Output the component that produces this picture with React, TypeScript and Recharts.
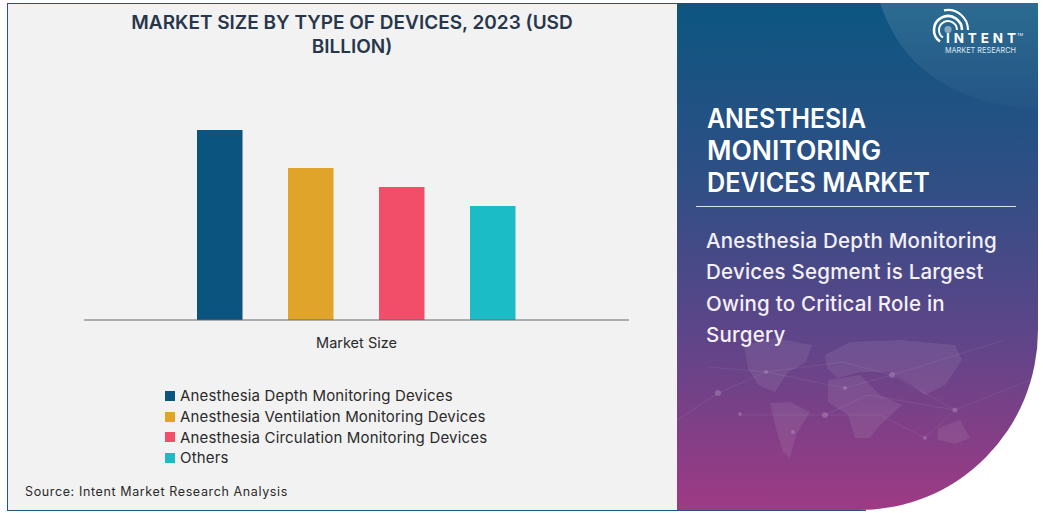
import { Bar, BarChart, Legend, XAxis, YAxis } from "recharts";

const categories = ["Market Size"];
const seriesNames = [
  "Anesthesia Depth Monitoring Devices",
  "Anesthesia Ventilation Monitoring Devices",
  "Anesthesia Circulation Monitoring Devices",
  "Others",
];
const seriesValues = [1.0, 0.8, 0.7, 0.6];
const seriesColors = ["#0b5480", "#e1a42b", "#f24e69", "#1cbcc7"];
const titleLines = ["MARKET SIZE BY TYPE OF DEVICES, 2023 (USD", "BILLION)"];
const headingLines = ["ANESTHESIA", "MONITORING", "DEVICES MARKET"];
const headingWidths = [159, 174, 223];
const bodyLines = [
  "Anesthesia Depth Monitoring",
  "Devices Segment is Largest",
  "Owing to Critical Role in",
  "Surgery",
];
const sourceText = "Source: Intent Market Research Analysis";

const chartData = categories.map((name) => {
  const row: Record<string, string | number> = { name };
  seriesNames.forEach((s, i) => {
    row[s] = seriesValues[i];
  });
  return row;
});

const FONT = "Inter, 'Open Sans', sans-serif";

function LegendList() {
  return (
    <div style={{ fontFamily: FONT }}>
      {seriesNames.map((name, i) => (
        <div key={name} style={{ display: "flex", alignItems: "center", height: 20.7, fontSize: 15, color: "#2a2a2a", letterSpacing: 0.18 }}>
          <span style={{ width: 10, height: 10, background: seriesColors[i], marginRight: 5, flex: "none" }} />
          <span style={{ whiteSpace: "nowrap" }}>{name}</span>
        </div>
      ))}
    </div>
  );
}

function Backdrop() {
  return (
    <svg width={1043} height={513} style={{ position: "absolute", left: 0, top: 0 }}>
      <defs>
        <linearGradient id="panelFill" x1="0" y1="0" x2="0" y2="1">
          <stop offset="0%" stopColor="#0c5681" />
          <stop offset="35%" stopColor="#2f4f85" />
          <stop offset="65%" stopColor="#5d4589" />
          <stop offset="100%" stopColor="#9e3a84" />
        </linearGradient>
        <linearGradient id="cornerFill" x1="0" y1="0" x2="0" y2="1">
          <stop offset="0%" stopColor="#ffffff" stopOpacity={0.13} />
          <stop offset="100%" stopColor="#ffffff" stopOpacity={0.015} />
        </linearGradient>
      </defs>
      <rect x={7.5} y={3.5} width={672} height={507} fill="#f2f2f2" stroke="#1b5a80" />
      <path d="M677 3 H1038 V330 A178 180 0 0 1 860 510 H677 Z" fill="url(#panelFill)" />
      <line x1={677} y1={510.5} x2={866} y2={510.5} stroke="#34507e" />
      <path d="M880 3 C895 45 925 100 1038 110 V3 Z" fill="url(#cornerFill)" />
      <g fill="#ffffff" fillOpacity={0.08}>
        <path d="M744 345 L775 338 L812 345 L806 362 L788 372 L775 392 L758 385 L748 368 Z" />
        <path d="M770 403 L790 402 L810 412 L796 435 L790 458 L783 452 L775 425 Z" />
        <path d="M825 355 L850 342 L900 340 L955 345 L962 360 L945 385 L925 395 L912 385 L890 372 L860 372 L838 378 L827 368 Z" />
        <path d="M828 380 L860 375 L880 395 L902 405 L880 425 L870 438 L855 438 L848 415 L828 402 Z" />
        <path d="M938 428 L960 420 L970 438 L955 444 L938 440 Z" />
      </g>
      <g stroke="#ffffff" strokeOpacity={0.07} fill="none">
        <path d="M677 420 L718 393 L766 372 L845 388 L892 375 L955 410 L1030 380" />
        <path d="M740 415 L825 415 L868 395 L955 410 L925 438 L880 415 L825 415" />
        <path d="M708 367 L766 372 L842 362 L892 375 L1005 340" />
      </g>
      <g fill="#ffffff" fillOpacity={0.18}>
        <circle cx={718} cy={393} r={3} />
        <circle cx={740} cy={414} r={2} />
        <circle cx={766} cy={372} r={2} />
        <circle cx={793} cy={432} r={2} />
        <circle cx={825} cy={415} r={3} />
        <circle cx={845} cy={388} r={2} />
        <circle cx={892} cy={375} r={3} />
        <circle cx={955} cy={410} r={2.5} />
        <circle cx={925} cy={438} r={2} />
      </g>
      <g fill="none" stroke="#ffffff" strokeWidth={2.2}>
        <path d="M944 10.4 A20 20 0 0 1 968 30" />
        <path d="M940 41.5 A14 14 0 1 1 962 30" strokeWidth={2.6} />
        <path d="M943 37.5 A9 9 0 1 1 957 30" strokeWidth={2} />
      </g>
      <circle cx={948} cy={29.5} r={3.6} fill="#ffffff" fillOpacity={0.45} />
      <text x={946} y={43} fill="#ffffff" fontFamily={FONT} fontWeight={700} fontSize={13.5} textLength={70}>INTENT</text>
      <text x={1017} y={36} fill="#ffffff" fontFamily={FONT} fontSize={4}>TM</text>
      <text x={945} y={53} fill="#dfe8f2" fontFamily={FONT} fontSize={8} textLength={71} lengthAdjust="spacingAndGlyphs">MARKET RESEARCH</text>
      <line x1={696} y1={206.5} x2={1016} y2={206.5} stroke="#ffffff" strokeOpacity={0.85} />
      {headingLines.map((line, i) => (
        <text
          key={line}
          x={707}
          y={127.5 + i * 32}
          fill="#ffffff"
          fontFamily={FONT}
          fontWeight={600}
          fontSize={26.5}
          textLength={headingWidths[i]}
          lengthAdjust="spacingAndGlyphs"
        >
          {line}
        </text>
      ))}
      {bodyLines.map((line, i) => (
        <text key={line} x={706} y={248 + i * 31.4} fill="#f4f0f8" fontFamily={FONT} fontWeight={500} fontSize={20.5} letterSpacing={0.22}>{line}</text>
      ))}
      {titleLines.map((line, i) => (
        <text key={line} x={352} y={29 + i * 24} textAnchor="middle" fill="#27364a" fontFamily={FONT} fontWeight={600} fontSize={19}>{line}</text>
      ))}
      <text x={25} y={496} fill="#2a2a2a" fontFamily={FONT} fontSize={12.5} letterSpacing={0.62}>{sourceText}</text>
    </svg>
  );
}

export default function App() {
  return (
    <div style={{ position: "absolute", left: 0, top: 0, width: 1043, height: 513, background: "#ffffff", overflow: "hidden" }}>
      <Backdrop />
      <div style={{ position: "absolute", left: 0, top: 0 }}>
        <BarChart
          width={677}
          height={513}
          data={chartData}
          margin={{ top: 92, right: 48, bottom: 163, left: 84 }}
          barSize={45.5}
          barGap={45.5}
        >
          <XAxis
            dataKey="name"
            height={30}
            axisLine={{ stroke: "#666666" }}
            tickLine={false}
            tick={{ fill: "#2a2a2a", fontSize: 14.5, fontFamily: FONT }}
            tickMargin={12}
          />
          <YAxis hide domain={[0, 1.2]} />
          {seriesNames.map((name, i) => (
            <Bar key={name} dataKey={name} fill={seriesColors[i]} isAnimationActive={false} />
          ))}
          <Legend
            layout="vertical"
            align="center"
            verticalAlign="middle"
            content={() => <LegendList />}
            wrapperStyle={{ left: 165, top: 385.5, width: 400 }}
          />
        </BarChart>
      </div>
    </div>
  );
}
